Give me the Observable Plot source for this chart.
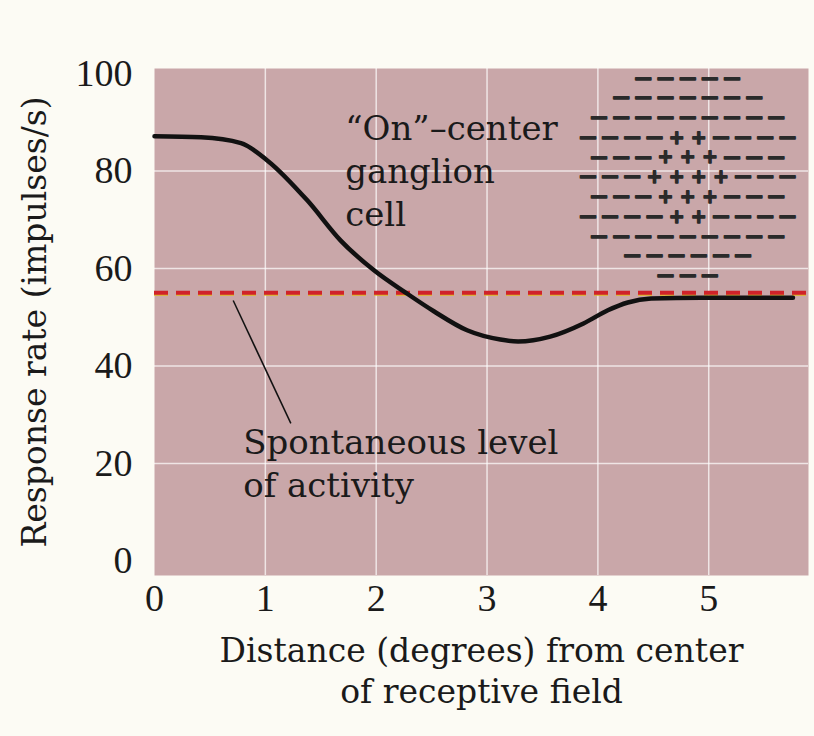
<!DOCTYPE html>
<html>
<head>
<meta charset="utf-8">
<script src="https://cdn.jsdelivr.net/npm/d3@7"></script>
<script src="https://cdn.jsdelivr.net/npm/@observablehq/plot@0.6"></script>
<style>
  html, body { margin: 0; padding: 0; background: #fcfbf4; }
  #chart svg { display: block; }
</style>
</head>
<body>
<div id="chart"></div>
<script>
// Data
const distance = [0, 0.42, 0.78, 1.02, 1.38, 1.68, 1.98, 2.28, 2.52, 2.82, 3.12, 3.28, 3.57, 3.87, 4.09, 4.27, 4.48, 4.93, 5.76];
const response = [87.1, 86.9, 85.7, 82.1, 73.9, 65.7, 59.6, 54.8, 51.2, 47.3, 45.4, 45.0, 46.0, 48.7, 51.4, 53.0, 53.8, 54.0, 54.0];
const spontaneous = 55;
const xTicks = [0, 1, 2, 3, 4, 5];
const yTicks = [0, 20, 40, 60, 80, 100];
const xLabel = "Distance (degrees) from center\nof receptive field";
const yLabel = "Response rate (impulses/s)";
const cellLabel = "\u201COn\u201D\u2013center\nganglion\ncell";
const spontLabel = "Spontaneous level\nof activity";
// receptive field diagram: rows of signs
const fieldRows = ["-----", "-------", "---------", "----++----", "---+++---", "---++++---", "---+++---", "----++----", "---------", "------", "---"];

const curve = distance.map((d, i) => ({x: d, y: response[i]}));

// layout of the receptive-field glyph diagram (in data units)
const fieldCenterX = 4.81, fieldTopY = 99.0, rowStep = 4.05, colStep = 0.2;
const signs = [];
fieldRows.forEach((row, r) => {
  const n = row.length;
  [...row].forEach((c, j) => {
    signs.push({x: fieldCenterX + (j - (n - 1) / 2) * colStep, y: fieldTopY - r * rowStep, s: c === "-" ? "\u2014" : "+"});
  });
});
const minus = signs.filter(d => d.s !== "+");
const plus = signs.filter(d => d.s === "+");

const serif = "'DejaVu Serif', serif";
const tickFont = "'Liberation Serif', serif";
const signFont = "'DejaVu Sans', sans-serif";
const plot = Plot.plot({
  width: 814,
  height: 736,
  marginLeft: 154,
  marginRight: 6,
  marginTop: 68,
  marginBottom: 161,
  style: {fontFamily: serif, fontSize: "34px", background: "transparent", color: "#1a1a1a"},
  x: {domain: [0, 5.9], ticks: xTicks, label: null},
  y: {domain: [-3, 101], ticks: yTicks, label: null},
  marks: [
    Plot.frame({fill: "#c9a7a9", stroke: null}),
    Plot.gridX(xTicks.slice(1), {stroke: "#ffffff", strokeOpacity: 0.7, strokeWidth: 1.5}),
    Plot.gridY(yTicks.slice(1, -1), {stroke: "#ffffff", strokeOpacity: 0.7, strokeWidth: 1.5}),
    Plot.axisX({ticks: xTicks, tickFormat: d => String(d), tickSize: 0, tickPadding: 9, fontSize: 38, fontFamily: tickFont, label: null}),
    Plot.axisY({ticks: yTicks, tickFormat: d => String(d), tickSize: 0, tickPadding: 22, fontSize: 38, fontFamily: tickFont, label: null}),
    Plot.ruleY([spontaneous], {stroke: "#e0b820", strokeWidth: 2, strokeDasharray: "14,8", dy: 2}),
    Plot.ruleY([spontaneous], {stroke: "#d0222a", strokeWidth: 4, strokeDasharray: "14,8"}),
    Plot.line(curve, {x: "x", y: "y", curve: "monotone-x", stroke: "#111", strokeWidth: 4.5}),
    Plot.link([{x1: 0.71, y1: 53.4, x2: 1.23, y2: 28.2}], {x1: "x1", y1: "y1", x2: "x2", y2: "y2", stroke: "#111", strokeWidth: 1.5}),
    Plot.text([cellLabel], {x: 1.72, y: 80.4, text: d => d, textAnchor: "start", lineAnchor: "middle", lineHeight: 1.27, fill: "#1a1a1a"}),
    Plot.text([spontLabel], {x: 0.80, y: 20.3, text: d => d, textAnchor: "start", lineAnchor: "middle", lineHeight: 1.27, fill: "#1a1a1a"}),
    Plot.text(minus, {x: "x", y: "y", text: "s", fontSize: 17, fontWeight: "bold", fontFamily: signFont, fill: "#2a2a2a", stroke: "#2a2a2a", strokeWidth: 1.6}),
    Plot.text(plus, {x: "x", y: "y", text: "s", fontSize: 19, fontWeight: "bold", fontFamily: signFont, fill: "#2a2a2a", stroke: "#2a2a2a", strokeWidth: 1.4}),
    Plot.text([xLabel], {frameAnchor: "bottom", dy: 94, fontSize: 33, text: d => d, lineAnchor: "middle", lineHeight: 1.24, fill: "#1a1a1a"}),
    Plot.text([yLabel], {frameAnchor: "left", textAnchor: "middle", dx: -119, rotate: -90, fontSize: 33, text: d => d, fill: "#1a1a1a"})
  ]
});
document.getElementById("chart").appendChild(plot);
</script>
</body>
</html>
